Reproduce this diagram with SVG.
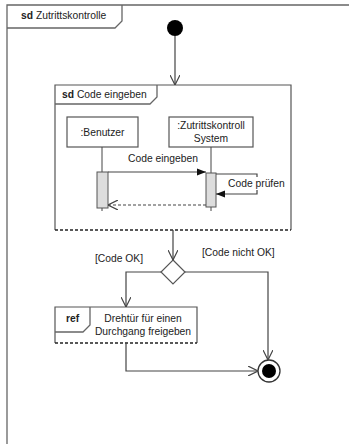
<svg xmlns="http://www.w3.org/2000/svg" width="349" height="444" viewBox="0 0 349 444">
  <style>
    text { font-family: "Liberation Sans", Arial, sans-serif; font-size: 10.3px; fill: #222; }
    .b { font-weight: bold; }
    .frame { fill: none; stroke: #666; stroke-width: 1.3; }
    .box { fill: #fff; stroke: #555; stroke-width: 1.2; }
    .dash { fill: none; stroke: #222; stroke-width: 1.3; stroke-dasharray: 3 2; }
    .edge { fill: none; stroke: #444; stroke-width: 1.2; }
    .life { fill: none; stroke: #444; stroke-width: 1; }
    .act { fill: #ddd; stroke: #555; stroke-width: 1; }
  </style>
  <defs>
    <marker id="open" viewBox="0 0 10 10" refX="10" refY="5" markerWidth="10" markerHeight="10" markerUnits="userSpaceOnUse" orient="auto">
      <path d="M0,0 L10,5 L0,10" fill="none" stroke="#444" stroke-width="1.2"/>
    </marker>
    <marker id="filled" viewBox="0 0 10 10" refX="10" refY="5" markerWidth="9" markerHeight="9" markerUnits="userSpaceOnUse" orient="auto">
      <path d="M0,1 L10,5 L0,9 Z" fill="#111"/>
    </marker>
  </defs>
  <rect width="349" height="444" fill="#fff"/>

  <!-- outer interaction frame -->
  <g id="frame-zutrittskontrolle">
    <path class="frame" d="M7,460 L7,5 L360,5"/>
    <path class="frame" d="M7,28 L115,28 L122,21 L122,5"/>
    <text x="21" y="19"><tspan class="b">sd</tspan> Zutrittskontrolle</text>
  </g>

  <g id="initial">
    <circle cx="175" cy="28" r="8" fill="#000"/>
  </g>

  <!-- sequence fragment -->
  <g id="sd-code-eingeben">
    <path class="box" d="M55,230 L55,85 L291,85 L291,230"/>
    <path class="dash" d="M55,230 L291,230"/>
    <path class="frame" d="M55,104 L150,104 L157,97 L157,85"/>
    <text x="62" y="98"><tspan class="b">sd</tspan> Code eingeben</text>
  </g>

  <g id="benutzer">
    <rect class="box" x="67" y="117" width="71" height="30"/>
    <text x="102.5" y="136" text-anchor="middle">:Benutzer</text>
    <path class="life" d="M102,147 V172 M102,208 V211"/>
    <rect class="act" x="97" y="172" width="11" height="36"/>
  </g>

  <g id="zutrittskontroll-system">
    <rect class="box" x="169" y="117" width="84" height="30"/>
    <text x="211" y="129" text-anchor="middle">:Zutrittskontroll</text>
    <text x="211" y="142" text-anchor="middle">System</text>
    <path class="life" d="M211,147 V173 M211,207 V211"/>
    <rect class="act" x="206" y="173" width="10" height="34"/>
  </g>

  <g id="messages">
    <text x="163" y="162" text-anchor="middle">Code eingeben</text>
    <path class="edge" d="M108,172 L206,172" marker-end="url(#filled)"/>
    <path class="edge" d="M216,174 L257,174 L257,194 L216,194" marker-end="url(#filled)"/>
    <rect x="226" y="177" width="61" height="13" fill="#fff"/>
    <text x="228" y="187">Code prüfen</text>
    <path class="edge" d="M206,205 L108,205" stroke-dasharray="3 2" marker-end="url(#open)"/>
  </g>

  <g id="decision">
    <path class="box" d="M173,260 L185,272 L173,284 L161,272 Z"/>
  </g>

  <g id="ref-drehtuer">
    <path class="box" d="M55,343 L55,307 L197,307 L197,343"/>
    <path class="dash" d="M55,343 L197,343"/>
    <path class="frame" d="M55,332 L83,332 L90,325 L90,307"/>
    <text x="66" y="322" class="b">ref</text>
    <text x="143" y="322" text-anchor="middle">Drehtür für einen</text>
    <text x="143" y="335" text-anchor="middle">Durchgang freigeben</text>
  </g>

  <g id="final">
    <circle cx="269" cy="371" r="11" fill="#fff" stroke="#333" stroke-width="1.3"/>
    <circle cx="269" cy="371" r="7" fill="#000"/>
  </g>

  <!-- control flow -->
  <g id="connectors">
    <path class="edge" d="M175,36 L175,85" marker-end="url(#open)"/>
    <path class="edge" d="M173,230 L173,260" marker-end="url(#open)"/>
    <path class="edge" d="M161,272 L126,272 L126,307" marker-end="url(#open)"/>
    <path class="edge" d="M185,272 L268,272 L268,360" marker-end="url(#open)"/>
    <path class="edge" d="M126,343 L126,371 L258,371" marker-end="url(#open)"/>
    <text x="95" y="262">[Code OK]</text>
    <text x="202" y="256">[Code nicht OK]</text>
  </g>
</svg>
